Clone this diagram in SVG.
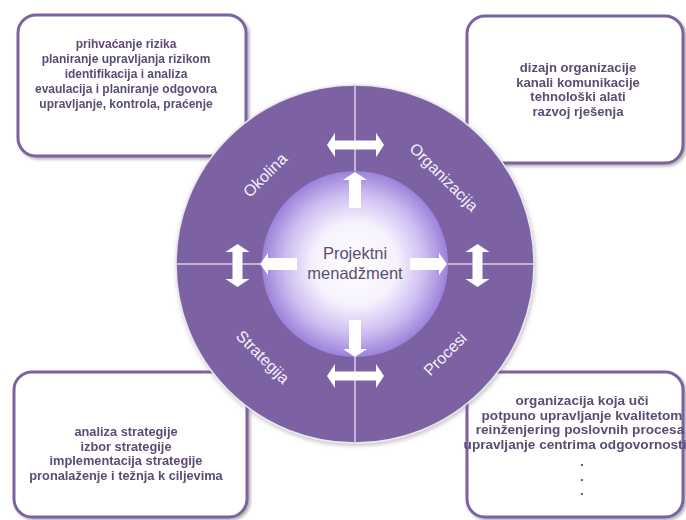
<svg xmlns="http://www.w3.org/2000/svg" width="686" height="520" viewBox="0 0 686 520">
  <defs>
    <radialGradient id="core" cx="0.5" cy="0.5" r="0.5">
      <stop offset="0" stop-color="#ffffff"/>
      <stop offset="0.45" stop-color="#f6f2fd"/>
      <stop offset="0.75" stop-color="#cdbdf1"/>
      <stop offset="1" stop-color="#9c82da"/>
    </radialGradient>
    <filter id="shadow" x="-10%" y="-10%" width="125%" height="125%">
      <feDropShadow dx="2" dy="2" stdDeviation="1.8" flood-color="#555" flood-opacity="0.45"/>
    </filter>
    <filter id="ringShadow" x="-10%" y="-10%" width="125%" height="125%">
      <feDropShadow dx="1" dy="2" stdDeviation="2" flood-color="#666" flood-opacity="0.4"/>
    </filter>
  </defs>
  <style>
    .box { fill: #ffffff; stroke: #7b62a3; stroke-width: 3; }
    .btxt { font-family: "Liberation Sans", Arial, sans-serif; font-weight: bold; fill: #5c4b73; text-anchor: middle; }
    .ring { fill: #7b62a3; stroke: #ebe7f1; stroke-width: 1.5; }
    .cross { stroke: #dcd2ea; stroke-width: 1.5; fill: none; }
    .lbl { font-family: "Liberation Sans", Arial, sans-serif; font-size: 16px; fill: #f4f0fa; text-anchor: middle; }
    .ctr { font-family: "Liberation Sans", Arial, sans-serif; font-size: 16.5px; fill: #5b4d74; text-anchor: middle; }
    .arr { fill: #ffffff; }
  </style>

  <g id="box-okolina" filter="url(#shadow)">
    <rect class="box" x="18" y="15" width="228" height="141" rx="18"/>
    <g class="btxt" font-size="12">
      <text x="126" y="48">prihvaćanje rizika</text>
      <text x="126" y="63">planiranje upravljanja rizikom</text>
      <text x="126" y="78">identifikacija i analiza</text>
      <text x="126" y="93">evaulacija i planiranje odgovora</text>
      <text x="126" y="108">upravljanje, kontrola, praćenje</text>
    </g>
  </g>

  <g id="box-organizacija" filter="url(#shadow)">
    <rect class="box" x="467" y="16" width="216" height="147" rx="18"/>
    <g class="btxt" font-size="13.1">
      <text x="578" y="72">dizajn organizacije</text>
      <text x="578" y="86.5">kanali komunikacije</text>
      <text x="578" y="101">tehnološki alati</text>
      <text x="578" y="115.5">razvoj rješenja</text>
    </g>
  </g>

  <g id="box-strategija" filter="url(#shadow)">
    <rect class="box" x="14" y="372" width="233" height="145" rx="18"/>
    <g class="btxt" font-size="12.8">
      <text x="126" y="436">analiza strategije</text>
      <text x="126" y="450.5">izbor strategije</text>
      <text x="126" y="465">implementacija strategije</text>
      <text x="126" y="479.5">pronalaženje i težnja k ciljevima</text>
    </g>
  </g>

  <g id="box-procesi" filter="url(#shadow)">
    <rect class="box" x="467" y="372" width="216" height="145" rx="18"/>
    <g class="btxt" font-size="13.6">
      <text x="582" y="405">organizacija koja uči</text>
      <text x="582" y="419.5">potpuno upravljanje kvalitetom</text>
      <text x="580" y="434">reinženjering poslovnih procesa</text>
      <text x="575" y="448.5">upravljanje centrima odgovornosti</text>
      <text x="582" y="466">.</text>
      <text x="582" y="480.5">.</text>
      <text x="582" y="495">.</text>
    </g>
  </g>

  <g id="ring">
    <circle class="ring" cx="355" cy="264" r="179" filter="url(#ringShadow)"/>
    <line class="cross" x1="355" y1="86" x2="355" y2="442"/>
    <line class="cross" x1="177" y1="264" x2="533" y2="264"/>
    <text class="lbl" transform="translate(269,179) rotate(-45)">Okolina</text>
    <text class="lbl" transform="translate(440,181) rotate(45)">Organizacija</text>
    <text class="lbl" transform="translate(259,361) rotate(45)">Strategija</text>
    <text class="lbl" transform="translate(449,358) rotate(-45)">Procesi</text>
  </g>

  <g id="center">
    <circle cx="355" cy="264" r="93" fill="url(#core)"/>
    <text class="ctr" x="355" y="259">Projektni</text>
    <text class="ctr" x="355" y="279">menadžment</text>
  </g>

  <g id="connectors">
    <path class="arr" d="M327,145 L335,132.7 L335,140.5 L376,140.5 L376,132.7 L384,145 L376,157.3 L376,149.5 L335,149.5 L335,157.3 Z"/>
    <path class="arr" d="M327,376 L335,364 L335,371.5 L376,371.5 L376,364 L384,376 L376,388 L376,380.5 L335,380.5 L335,388 Z"/>
    <path class="arr" d="M237.5,244 L249.5,252 L242.5,252 L242.5,279 L249.5,279 L237.5,287 L225.5,279 L232.5,279 L232.5,252 L225.5,252 Z"/>
    <path class="arr" d="M477.5,244 L489.5,252 L482.5,252 L482.5,279 L489.5,279 L477.5,287 L465.5,279 L472.5,279 L472.5,252 L465.5,252 Z"/>
    <path class="arr" d="M355,172 L367,180 L361,180 L361,208 L349,208 L349,180 L343,180 Z"/>
    <path class="arr" d="M349,320 L361,320 L361,349 L367,349 L355,357 L343,349 L349,349 Z"/>
    <path class="arr" d="M260,264 L268,253 L268,258 L297,258 L297,270 L268,270 L268,275 Z"/>
    <path class="arr" d="M447,264 L439,253 L439,258 L410,258 L410,270 L439,270 L439,275 Z"/>
  </g>
</svg>
